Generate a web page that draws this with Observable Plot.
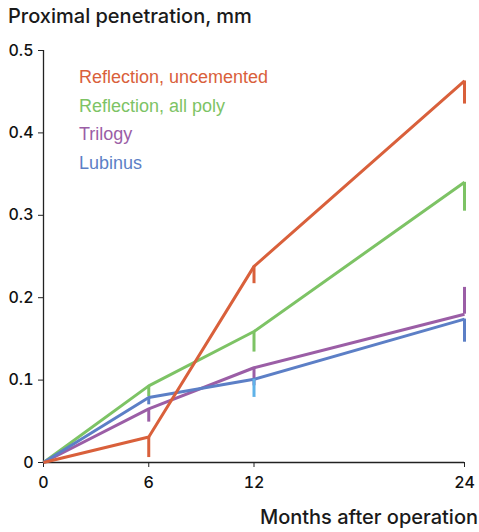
<!DOCTYPE html>
<html>
<head>
<meta charset="utf-8">
<script src="https://cdn.jsdelivr.net/npm/d3@7"></script>
<script src="https://cdn.jsdelivr.net/npm/@observablehq/plot@0.6"></script>
<style>
  body { margin: 0; background: #fff; }
  #chart { position: relative; width: 479px; height: 532px; font-family: "Liberation Sans", Arial, Helvetica, sans-serif; }
  #chart svg { position: absolute; left: 0; top: 0; }
  .title { position: absolute; left: 8px; top: 6px; font-family: Inter, "Liberation Sans", Arial, sans-serif; font-size: 20px; line-height: 1; font-weight: 500; color: #1a1a1a; white-space: nowrap; }
  .xlabel { position: absolute; right: 1px; top: 507px; font-family: Inter, "Liberation Sans", Arial, sans-serif; font-size: 20px; line-height: 1; font-weight: 500; color: #1a1a1a; white-space: nowrap; }
  .legend { position: absolute; left: 79px; top: 63px; font-size: 18px; line-height: 28.7px; white-space: nowrap; }
</style>
</head>
<body>
<div id="chart"></div>
<script>
// ---- data ----
const months = [0, 6, 12, 24];
const seriesNames = ["Reflection, uncemented", "Reflection, all poly", "Trilogy", "Lubinus"];
const seriesColors = ["#d9603b", "#7dc365", "#9b5ea6", "#5c7fc6"];

const reflectionUncemented = [0, 0.031, 0.238, 0.463];
const reflectionAllPoly    = [0, 0.093, 0.159, 0.340];
const trilogy              = [0, 0.065, 0.115, 0.180];
const lubinus              = [0, 0.079, 0.101, 0.174];

// one-sided error bar ends (null = no bar)
const reflectionUncementedErr = [null, 0.006, 0.217, 0.435];
const reflectionAllPolyErr    = [null, 0.080, 0.134, 0.305];
const trilogyErr              = [null, 0.049, 0.093, 0.2125];
const lubinusErr              = [null, 0.070, 0.079, 0.146];

const xTicks = [0, 6, 12, 24];
const yTicks = [0, 0.1, 0.2, 0.3, 0.4, 0.5];

const titleText = "Proximal penetration, mm";
const xLabelText = "Months after operation";

// ---- build table ----
const values = [reflectionUncemented, reflectionAllPoly, trilogy, lubinus];
const errs = [reflectionUncementedErr, reflectionAllPolyErr, trilogyErr, lubinusErr];
const rows = [];
seriesNames.forEach((s, i) => months.forEach((m, j) => rows.push({series: s, month: m, value: values[i][j], err: errs[i][j]})));

const drawOrder = ["Reflection, all poly", "Trilogy", "Lubinus", "Reflection, uncemented"];
const colorOf = s => seriesColors[seriesNames.indexOf(s)];
const barColor = d => (d.series === "Lubinus" && d.month === 12) ? "#5fb2e8" : colorOf(d.series);

const seriesMarks = drawOrder.flatMap(s => {
  const data = rows.filter(d => d.series === s);
  return [
    Plot.line(data, {x: "month", y: "value", stroke: colorOf(s), strokeWidth: 3, strokeLinejoin: "miter", strokeLinecap: "butt"}),
    Plot.ruleX(data.filter(d => d.err != null), {x: "month", y1: "value", y2: "err", stroke: barColor, strokeWidth: 3})
  ];
});

const tickFont = 'Inter, "Liberation Sans", Arial, sans-serif';

const plot = Plot.plot({
  width: 479,
  height: 532,
  marginTop: 50,
  marginBottom: 70,
  marginLeft: 43,
  marginRight: 15,
  style: {fontFamily: tickFont, background: "transparent"},
  x: {domain: [0, 24]},
  y: {domain: [0, 0.5]},
  marks: [
    Plot.axisX({ticks: xTicks, tickSize: 5, tickPadding: 9, fontSize: 16, fontWeight: 500, fill: "#111", stroke: "#222", label: null}),
    Plot.axisY({ticks: yTicks, tickSize: 5, tickPadding: 5, fontSize: 16, fontWeight: 500, fill: "#111", stroke: "#222", label: null,
      tickFormat: d => d === 0 ? "0" : d3.format(".1f")(d)}),
    Plot.ruleY([0], {stroke: "#222", strokeWidth: 1.3}),
    Plot.ruleX([0], {stroke: "#222", strokeWidth: 1.3}),
    ...seriesMarks
  ]
});

const chart = document.getElementById("chart");
chart.appendChild(plot);

const title = document.createElement("div");
title.className = "title";
title.textContent = titleText;
chart.appendChild(title);

const xl = document.createElement("div");
xl.className = "xlabel";
xl.textContent = xLabelText;
chart.appendChild(xl);

const legend = document.createElement("div");
legend.className = "legend";
seriesNames.forEach((s, i) => {
  const item = document.createElement("div");
  item.textContent = s;
  item.style.color = seriesColors[i];
  legend.appendChild(item);
});
chart.appendChild(legend);
</script>
</body>
</html>
